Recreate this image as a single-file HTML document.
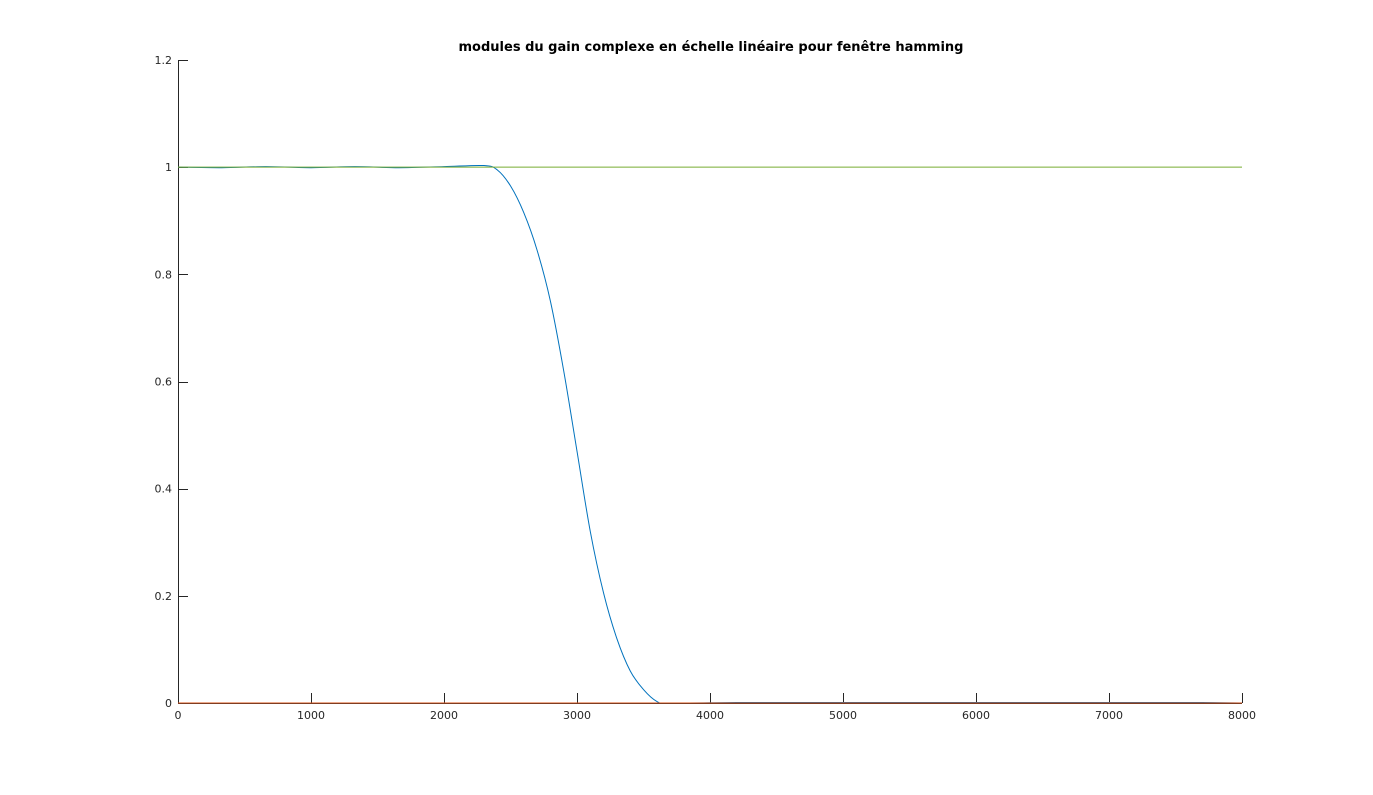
<!DOCTYPE html>
<html><head><meta charset="utf-8"><style>
body{margin:0;background:#fff;}
svg text{font-family:"DejaVu Sans","Liberation Sans",sans-serif;font-size:11px;fill:#262626;}
</style></head><body>
<svg id="chart" width="1373" height="790" viewBox="0 0 1373 790" xmlns="http://www.w3.org/2000/svg">
<rect width="1373" height="790" fill="#fff"/>
<text x="711" y="51" text-anchor="middle" style="font-weight:bold;font-size:13px;fill:#000">modules du gain complexe en échelle linéaire pour fenêtre hamming</text>
<g id="axes"></g>
<g id="series"></g>
</svg>
<script>
const xTicks=[0,1000,2000,3000,4000,5000,6000,7000,8000];
const yTicks=[0,0.2,0.4,0.6,0.8,1,1.2];
const yTickLabels=["0","0.2","0.4","0.6","0.8","1","1.2"];
const freq=[0,330,660,1000,1330,1660,2000,2300,2400,2500,2600,2700,2800,2900,3000,3100,3200,3300,3400,3500,3600,3700,4200,4550,4900,5250,5600,5950,6300,6650,7000,7350,7700,8000];
const gainBlue=[1.0,0.999,1.001,0.999,1.001,0.999,1.001,1.003,0.995,0.965,0.915,0.845,0.75,0.62,0.47,0.32,0.205,0.12,0.06,0.025,0.003,0.0,0.001,0.001,0.001,0.001,0.001,0.001,0.001,0.001,0.001,0.001,0.001,0.0];
const gainGreen=[1,1];
const gainRed=[0,0];
const lineFreq=[0,8000];
const X=v=>178+v/8000*1064;
const Y=v=>703-v/1.2*643;
const NS="http://www.w3.org/2000/svg";
const ax=document.getElementById('axes'), se=document.getElementById('series');
function mk(tag,attrs,parent){const e=document.createElementNS(NS,tag);for(const k in attrs)e.setAttribute(k,attrs[k]);parent.appendChild(e);return e;}
const xa=mk('line',{x1:178,y1:703.5,x2:1242,y2:703.5,stroke:'#262626','stroke-width':1},ax);


const ya=mk('line',{x1:178.5,y1:60,x2:178.5,y2:703,stroke:'#262626','stroke-width':1},ax);


xTicks.forEach(t=>{
  const xp=Math.round(X(t))+0.5;
  const l=mk('line',{x1:xp,y1:703,x2:xp,y2:693,stroke:'#262626','stroke-width':1},ax);
  
  
  const tx=mk('text',{x:X(t),y:719,'text-anchor':'middle'},ax);tx.textContent=t;
  
  
});
yTicks.forEach((t,i)=>{
  const yp=Math.round(Y(t))+0.5;
  const l=mk('line',{x1:178,y1:yp,x2:188,y2:yp,stroke:'#262626','stroke-width':1},ax);
  
  
  const tx=mk('text',{x:172,y:Y(t)+4,'text-anchor':'end'},ax);tx.textContent=yTickLabels[i];
  
  
});
function smooth(xs,ys){
  const p=xs.map((x,i)=>[X(x),Y(ys[i])]);let d='M'+p[0][0]+','+p[0][1];
  for(let i=0;i<p.length-1;i++){const p0=p[Math.max(0,i-1)],p1=p[i],p2=p[i+1],p3=p[Math.min(p.length-1,i+2)];
    d+=` C${p1[0]+(p2[0]-p0[0])/6},${p1[1]+(p2[1]-p0[1])/6} ${p2[0]-(p3[0]-p1[0])/6},${p2[1]-(p3[1]-p1[1])/6} ${p2[0]},${p2[1]}`;}
  return d;}
const blue=mk('path',{d:smooth(freq,gainBlue),fill:'none',stroke:'#0072bd','stroke-width':1},se);


const red=mk('path',{d:smooth(lineFreq,gainRed),fill:'none',stroke:'#d95319','stroke-width':1},se);


const green=mk('path',{d:smooth(lineFreq,gainGreen),fill:'none',stroke:'#77ac30','stroke-width':1},se);


</script>
</body></html>
